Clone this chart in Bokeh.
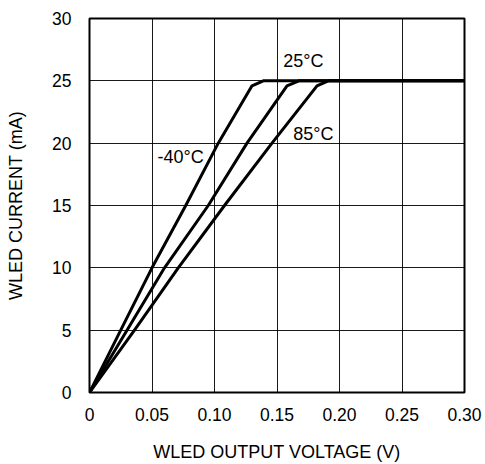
from bokeh.plotting import figure
from bokeh.models import Range1d, FixedTicker, Label
from bokeh.embed import file_html
from bokeh.resources import INLINE

# Data
current = [0, 5, 10, 15, 20, 24.6, 25, 25]
v_m40 = [0, 0.025, 0.050, 0.077, 0.103, 0.130, 0.139, 0.30]
v_25 = [0, 0.030, 0.060, 0.095, 0.126, 0.158, 0.1675, 0.30]
v_85 = [0, 0.036, 0.071, 0.108, 0.146, 0.182, 0.191, 0.30]

x_ticks = [0, 0.05, 0.10, 0.15, 0.20, 0.25, 0.30]
x_tick_labels = ["0", "0.05", "0.10", "0.15", "0.20", "0.25", "0.30"]
y_ticks = [0, 5, 10, 15, 20, 25, 30]
y_tick_labels = ["0", "5", "10", "15", "20", "25", "30"]

curve_labels = ["-40°C", "25°C", "85°C"]
label_x = [0.0544, 0.155, 0.163]
label_y = [18.9, 26.6, 20.7]

FONT = "Liberation Sans"

p = figure(width=485, height=464, output_backend="svg", toolbar_location=None,
           x_range=Range1d(0, 0.30), y_range=Range1d(0, 30),
           min_border_left=89, min_border_top=18, min_border_right=21, min_border_bottom=71)

p.outline_line_color = "black"
p.outline_line_width = 2
p.background_fill_color = "white"
p.border_fill_color = "white"

for ax in (p.xaxis[0], p.yaxis[0]):
    ax.axis_line_color = None
    ax.major_tick_line_color = None
    ax.minor_tick_line_color = None
    ax.major_label_text_font = FONT
    ax.major_label_text_font_size = "17.5px"
    ax.major_label_text_color = "black"
    ax.axis_label_text_font = FONT
    ax.axis_label_text_font_size = "18px"
    ax.axis_label_text_font_style = "normal"
    ax.axis_label_text_color = "black"

p.xaxis.ticker = FixedTicker(ticks=x_ticks)
p.xaxis.major_label_overrides = {t: s for t, s in zip(x_ticks, x_tick_labels)}
p.yaxis.ticker = FixedTicker(ticks=y_ticks)
p.yaxis.major_label_overrides = {t: s for t, s in zip(y_ticks, y_tick_labels)}
p.xaxis.axis_label = "WLED OUTPUT VOLTAGE (V)"
p.yaxis.axis_label = "WLED CURRENT (mA)"
p.xaxis.major_label_standoff = 9
p.yaxis.major_label_standoff = 12
p.xaxis.axis_label_standoff = 18
p.yaxis.axis_label_standoff = 23

p.xgrid.grid_line_color = "black"
p.ygrid.grid_line_color = "black"
p.xgrid.grid_line_width = 1
p.ygrid.grid_line_width = 1
p.xgrid.grid_line_alpha = 0.9
p.ygrid.grid_line_alpha = 0.9

for v in (v_m40, v_25, v_85):
    p.line(v, current, line_color="black", line_width=3, line_join="round")

for t, x, y in zip(curve_labels, label_x, label_y):
    p.add_layout(Label(x=x, y=y, text=t, text_font=FONT, text_font_size="18px",
                       text_color="black", text_baseline="middle", text_align="left",
                       background_fill_color="white" if t == "-40°C" else None))

open("out.html", "w").write(file_html(p, INLINE))
